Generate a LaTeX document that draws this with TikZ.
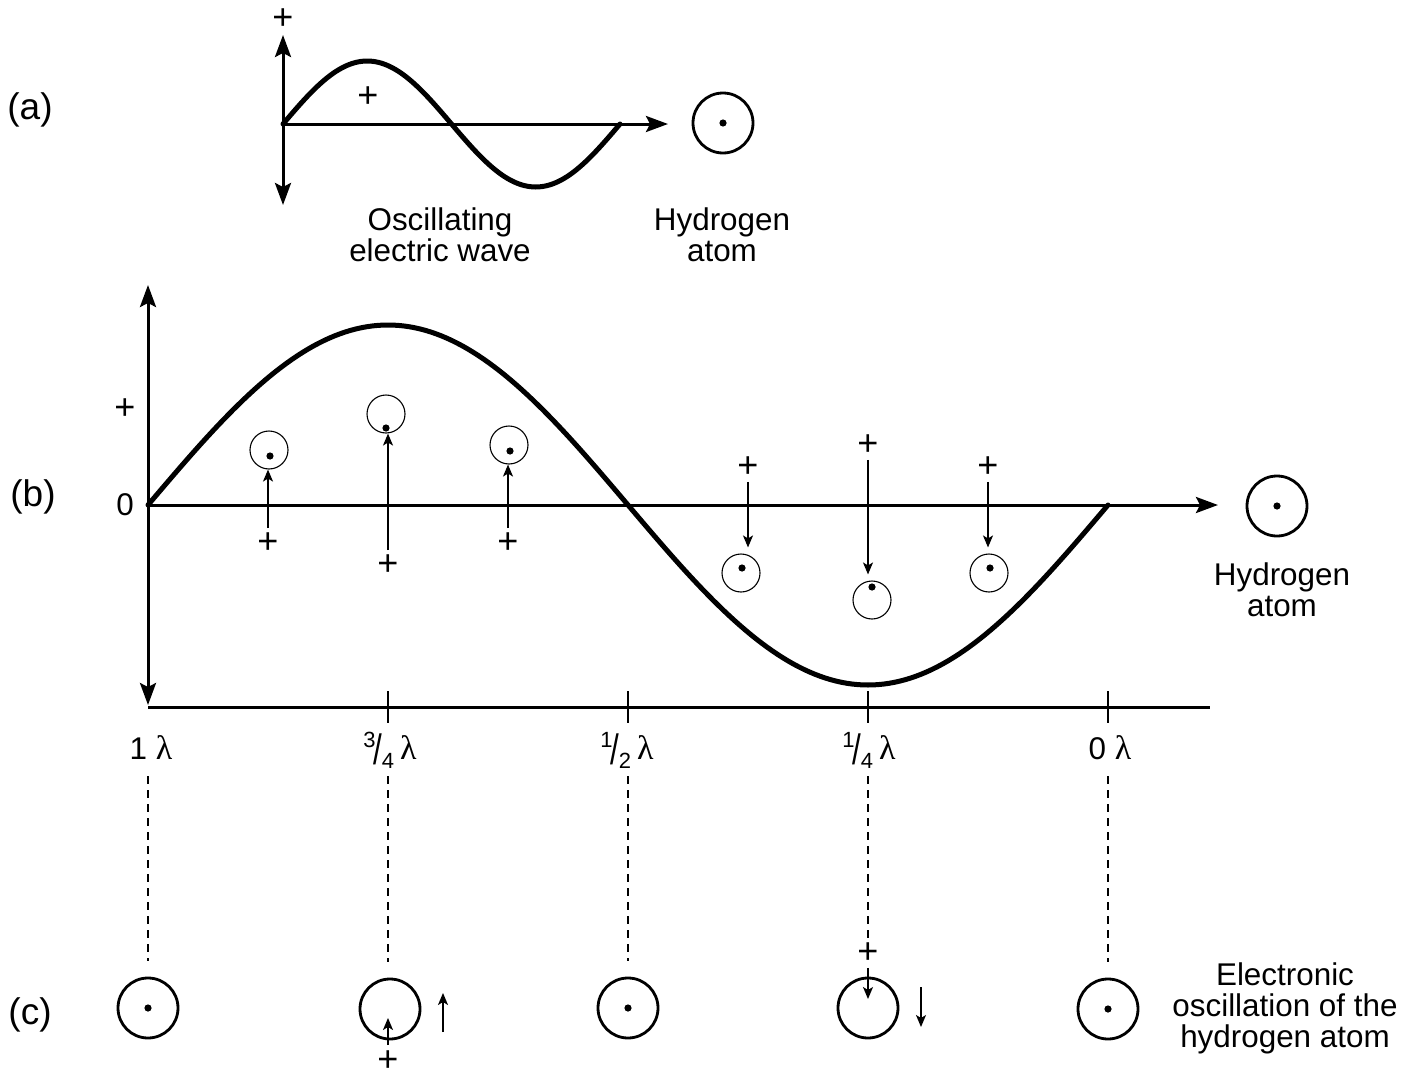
\documentclass[tikz,border=0pt]{standalone}
\usepackage{fontspec}
\setmainfont{Liberation Sans}
\newfontfamily\lamfont{Liberation Serif}
\usepackage{graphicx}
\usetikzlibrary{arrows.meta}
\newcommand\txtfont{\fontsize{15.7}{15.5}\selectfont}
\newcommand\plusfont{\fontsize{18}{18}\selectfont}
\newcommand\panelfont{\fontsize{18.5}{18.5}\selectfont}
\newcommand\lam{{\lamfont\fontsize{17}{17}\selectfont λ}}
\newcommand\smallfr[2]{\raisebox{6pt}{\fontsize{11}{11}\selectfont #1}\kern-0.9pt\raisebox{-2.8pt}{\scalebox{1}[1.35]{/}}\kern-0.4pt\raisebox{-4.5pt}{\fontsize{11}{11}\selectfont #2}}
\begin{document}
\begin{tikzpicture}[x=0.5pt,y=-0.5pt,
  txt/.style={font=\txtfont, inner sep=0pt, align=center},
  plus/.style={font=\plusfont, inner sep=2pt},
  panel/.style={font=\panelfont, inner sep=0pt},
  lamlabel/.style={font=\txtfont, inner sep=0pt, anchor=base},
  wave/.style={line width=2.5pt, line cap=round, line join=round},
  axis/.style={line width=1.5pt},
  axarrow/.style={axis, -{Stealth[length=11pt,width=8pt,inset=2pt]}},
  axboth/.style={axis, {Stealth[length=11pt,width=8pt,inset=2pt]}-{Stealth[length=11pt,width=8pt,inset=2pt]}},
  thinarr/.style={line width=0.75pt, -{Stealth[length=6pt,width=5pt,inset=1.5pt]}},
  ticky/.style={line width=0.7pt},
  guide/.style={line width=0.7pt, dash pattern=on 4pt off 3pt},
  bigatom/.style={circle, draw, line width=1.4pt, minimum size=30pt, inner sep=0pt},
  smallatom/.style={circle, draw, line width=0.55pt, minimum size=19pt, inner sep=0pt},
  elec/.style={circle, fill, inner sep=0pt, minimum size=3.6pt}
]
\useasboundingbox[fill=white] (0,0) rectangle (1410,1076);

% panel labels
\node[panel] (la) at (30,110) {(a)};
\node[panel] (lb) at (33,497) {(b)};
\node[panel] (lc) at (30,1015) {(c)};

% ---------- (a) ----------
\coordinate (aTop) at (283,35);
\coordinate (aBot) at (283,205);
\coordinate (aO) at (283,124);
\coordinate (aEnd) at (668,124);
\draw[axboth] (aTop) -- (aBot);
\draw[axarrow] (aO) -- (aEnd);
\draw[wave] plot[domain=0:360, samples=121] ({283+0.93611*\x},{124-63*sin(\x)});
\node[plus] (aPlusTop) at (283,19) {+};
\node[plus] (aPlus) at (368,97) {+};
\node[bigatom] (aAtom) at (723,123) {};
\node[elec] (aElec) at (aAtom.center) {};
\node[txt] (aWave) at (440,234.5) {Oscillating\\electric wave};
\node[txt] (aH) at (722,234.5) {Hydrogen\\atom};

% ---------- (b) ----------
\coordinate (bTop) at (148,285);
\coordinate (bBot) at (148,705);
\coordinate (bO) at (148,505);
\coordinate (bEnd) at (1218,505);
\coordinate (bL) at (148,707);
\coordinate (bR) at (1210,707);
\draw[axboth] (bTop) -- (bBot);
\draw[axarrow] (bO) -- (bEnd);
\draw[axis] (bL) -- (bR);
\draw[wave] plot[domain=0:360, samples=181] ({148+2.666667*\x},{505-180*sin(\x)});
\node[plus] (bPlusAx) at (125,409) {+};
\node[txt] (bZero) at (125,505) {0};

% ticks
\coordinate (t2a) at (388,691); \coordinate (t2b) at (388,723);
\coordinate (t3a) at (628,691); \coordinate (t3b) at (628,723);
\coordinate (t4a) at (868,691); \coordinate (t4b) at (868,723);
\coordinate (t5a) at (1108,691); \coordinate (t5b) at (1108,723);
\draw[ticky] (t2a) -- (t2b);
\draw[ticky] (t3a) -- (t3b);
\draw[ticky] (t4a) -- (t4b);
\draw[ticky] (t5a) -- (t5b);

% wavelength labels
\node[lamlabel] (L1) at (151,759) {1 \lam};
\node[lamlabel] (L2) at (390,759) {\smallfr{3}{4}\kern3pt\lam};
\node[lamlabel] (L3) at (627,759) {\smallfr{1}{2}\kern3pt\lam};
\node[lamlabel] (L4) at (869,759) {\smallfr{1}{4}\kern3pt\lam};
\node[lamlabel] (L5) at (1110,759) {0 \lam};

% small atoms with forces
\node[smallatom] (b1) at (269,450) {};
\node[elec] (e1) at (270,456) {};
\node[plus] (p1) at (268,543) {+};
\draw[thinarr] (p1.north) -- (p1.north |- b1.south);

\node[smallatom] (b2) at (386,414) {};
\node[elec] (e2) at (386,428) {};
\node[plus] (p2) at (388,565) {+};
\draw[thinarr] (p2.north) -- (p2.north |- b2.south);

\node[smallatom] (b3) at (509,445) {};
\node[elec] (e3) at (510,451) {};
\node[plus] (p3) at (508,543) {+};
\draw[thinarr] (p3.north) -- (p3.north |- b3.south);

\node[smallatom] (b4) at (741,573) {};
\node[elec] (e4) at (742,568) {};
\node[plus] (p4) at (748,467) {+};
\draw[thinarr, shorten >=3pt] (p4.south) -- (p4.south |- b4.north);

\node[smallatom] (b5) at (872,600) {};
\node[elec] (e5) at (872,587) {};
\node[plus] (p5) at (868,445) {+};
\draw[thinarr, shorten >=3pt] (p5.south) -- (p5.south |- b5.north);

\node[smallatom] (b6) at (989,573) {};
\node[elec] (e6) at (990,568) {};
\node[plus] (p6) at (988,467) {+};
\draw[thinarr, shorten >=3pt] (p6.south) -- (p6.south |- b6.north);

% hydrogen atom (b)
\node[bigatom] (bAtom) at (1277,506) {};
\node[elec] (bElec) at (bAtom.center) {};
\node[txt] (bH) at (1282,590) {Hydrogen\\atom};

% ---------- (c) ----------
\node[bigatom] (c1) at (148,1008) {};
\node[elec] (ce1) at (c1.center) {};
\node[bigatom] (c2) at (390,1009) {};
\node[bigatom] (c3) at (628,1008) {};
\node[elec] (ce3) at (c3.center) {};
\node[bigatom] (c4) at (868,1008) {};
\node[bigatom] (c5) at (1108,1009) {};
\node[elec] (ce5) at (c5.center) {};

\coordinate (d1) at (148,776);
\coordinate (d2) at (388,776);
\coordinate (d3) at (628,776);
\coordinate (d4) at (868,776);
\coordinate (d5) at (1108,776);
\draw[guide, shorten >=8pt] (d1) -- (c1.north);
\draw[guide, shorten >=8pt] (d2) -- (d2 |- c2.north);
\draw[guide, shorten >=8pt] (d3) -- (c3.north);
\node[plus] (pc4) at (868,953) {+};
\draw[guide] (d4) -- (pc4.north);
\draw[guide, shorten >=8pt] (d5) -- (c5.north);

\node[plus, inner sep=0.5pt] (pc2) at (388,1061) {+};
\coordinate (c2tip) at (388,1018);
\draw[thinarr, shorten <=2pt] (pc2.north) -- (c2tip);
\coordinate (c2s0) at (443,1032);
\coordinate (c2s1) at (443,993);
\draw[thinarr] (c2s0) -- (c2s1);

\coordinate (c4tip) at (868,999);
\draw[thinarr] (pc4.south) -- (c4tip);
\coordinate (c4s0) at (921,987);
\coordinate (c4s1) at (921,1027);
\draw[thinarr] (c4s0) -- (c4s1);

\node[txt] (cText) at (1285,1008) {Electronic\\oscillation of the\\hydrogen atom};
\end{tikzpicture}
\end{document}
